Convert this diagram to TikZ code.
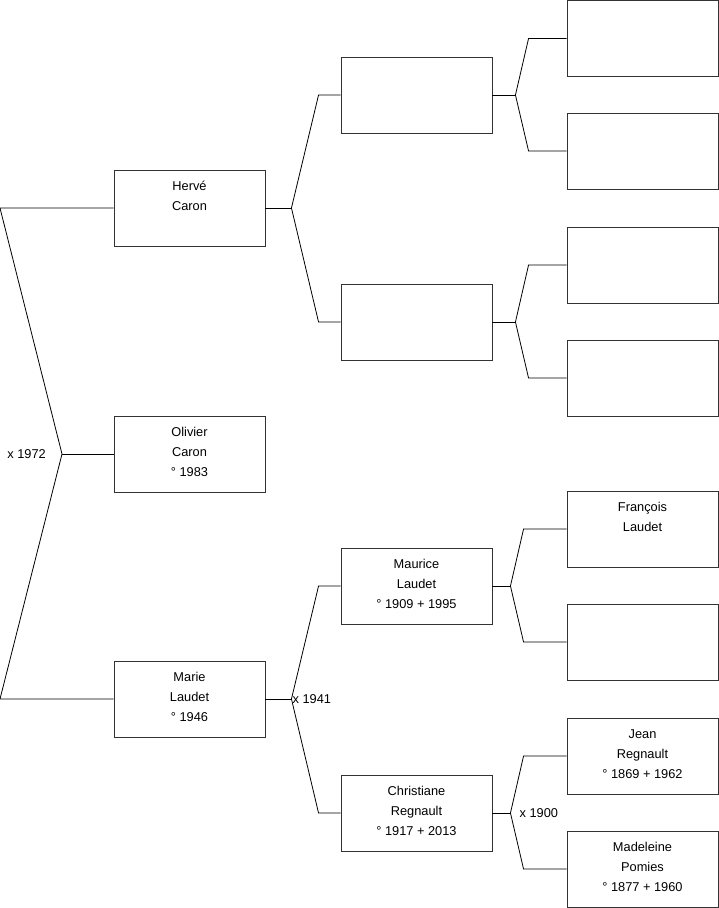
\documentclass[tikz,border=0pt]{standalone}
\usepackage{fontspec}
\setmainfont{Liberation Sans}
\usetikzlibrary{positioning}
\tikzset{
  box/.style={draw=black!80,line width=0.9pt,fill=white,minimum width=151pt,minimum height=76pt,inner sep=0pt,font=\fontsize{12.8}{20}\selectfont},
  link/.style={line width=0.8pt,draw=black},
  lbl/.style={font=\fontsize{12.8}{14}\selectfont,inner sep=1pt},
}
\newcommand{\who}[1]{\begin{minipage}[c][64pt][t]{140pt}\centering\strut#1\end{minipage}}

\begin{document}
\begin{tikzpicture}[x=1pt,y=-1pt]
 \useasboundingbox (0,0) rectangle (719,908);
 % generation 1
 \node[box] (hc) at (189.5,208) {\who{Hervé\\Caron}};
 \node[box] (oc) at (189.5,454) {\who{Olivier\\Caron\\° 1983}};
 \node[box] (ml) at (189.5,699) {\who{Marie\\Laudet\\° 1946}};
 % generation 2
 \node[box] (hcF) at (416.5,95) {\who{}};
 \node[box] (hcM) at (416.5,322) {\who{}};
 \node[box] (mlF) at (416.5,586) {\who{Maurice\\Laudet\\° 1909 + 1995}};
 \node[box] (mlM) at (416.5,813) {\who{Christiane\\Regnault\\° 1917 + 2013}};
 % generation 3
 \node[box] (hcFF) at (642.5,38.5) {\who{}};
 \node[box] (hcFM) at (642.5,151) {\who{}};
 \node[box] (hcMF) at (642.5,265) {\who{}};
 \node[box] (hcMM) at (642.5,378) {\who{}};
 \node[box] (mlFF) at (642.5,529) {\who{François\\Laudet}};
 \node[box] (mlFM) at (642.5,642) {\who{}};
 \node[box] (mlMF) at (642.5,756) {\who{Jean\\Regnault\\° 1869 + 1962}};
 \node[box] (mlMM) at (642.5,869) {\who{Madeleine\\Pomies\\° 1877 + 1960}};
 % parents of Olivier
 \coordinate (oc0) at (62,454);
 \coordinate (hc0) at (0,208);
 \coordinate (ml0) at (0,699);
 \draw[link] (hc.west) -- (hc0) -- (oc0) -- (ml0) -- (ml.west);
 \draw[link] (oc0) -- (oc.west);
 \node[lbl,left=15pt of oc0] (oc1) {x 1972};
 % parents of Hervé
 \coordinate (hc1) at ([xshift=26pt]hc.east);
 \draw[link] (hc.east) -- (hc1);
 \draw[link] (hc1) -- ([xshift=-22pt]hcF.west) -- (hcF.west);
 \draw[link] (hc1) -- ([xshift=-22pt]hcM.west) -- (hcM.west);
 \coordinate (hcF1) at ([xshift=23pt]hcF.east);
 \draw[link] (hcF.east) -- (hcF1);
 \draw[link] (hcF1) -- ([xshift=-38pt]hcFF.west) -- (hcFF.west);
 \draw[link] (hcF1) -- ([xshift=-38pt]hcFM.west) -- (hcFM.west);
 \coordinate (hcM1) at ([xshift=23pt]hcM.east);
 \draw[link] (hcM.east) -- (hcM1);
 \draw[link] (hcM1) -- ([xshift=-38pt]hcMF.west) -- (hcMF.west);
 \draw[link] (hcM1) -- ([xshift=-38pt]hcMM.west) -- (hcMM.west);
 % parents of Marie
 \coordinate (ml1) at ([xshift=26pt]ml.east);
 \draw[link] (ml.east) -- (ml1);
 \draw[link] (ml1) -- ([xshift=-22pt]mlF.west) -- (mlF.west);
 \draw[link] (ml1) -- ([xshift=-22pt]mlM.west) -- (mlM.west);
 \node[lbl,right=0pt of ml1] (ml2) {x 1941};
 \coordinate (mlF1) at ([xshift=18pt]mlF.east);
 \draw[link] (mlF.east) -- (mlF1);
 \draw[link] (mlF1) -- ([xshift=-43pt]mlFF.west) -- (mlFF.west);
 \draw[link] (mlF1) -- ([xshift=-43pt]mlFM.west) -- (mlFM.west);
 \coordinate (mlM1) at ([xshift=18pt]mlM.east);
 \draw[link] (mlM.east) -- (mlM1);
 \draw[link] (mlM1) -- ([xshift=-43pt]mlMF.west) -- (mlMF.west);
 \draw[link] (mlM1) -- ([xshift=-43pt]mlMM.west) -- (mlMM.west);
 \node[lbl,right=8pt of mlM1] (mlM2) {x 1900};
\end{tikzpicture}
\end{document}
